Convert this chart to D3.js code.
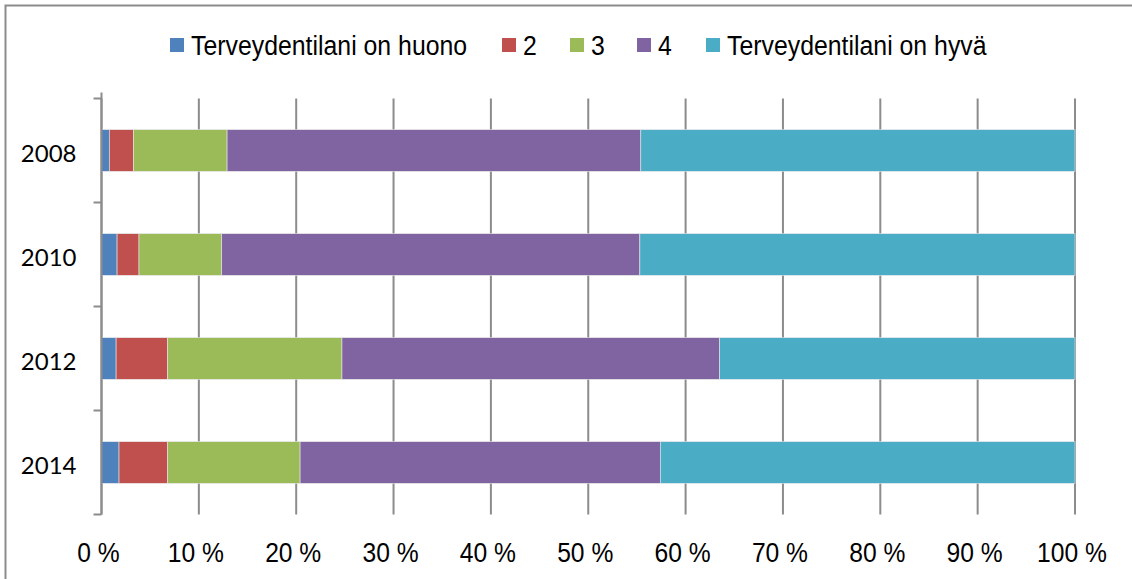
<!DOCTYPE html>
<html>
<head>
<meta charset="utf-8">
<script src="https://cdn.jsdelivr.net/npm/d3@7"></script>
<style>
  body { margin: 0; background: #fff; }
  svg { display: block; }
</style>
</head>
<body>
<div id="chart"></div>
<script>
// categories and series (percent shares)
var years = ['2008', '2010', '2012', '2014'];
var seriesNames = ['Terveydentilani on huono', '2', '3', '4', 'Terveydentilani on hyvä'];
var huono = [0.8, 1.6, 1.5, 1.8];
var s2 = [2.5, 2.25, 5.3, 5.0];
var s3 = [9.6, 8.5, 17.9, 13.6];
var s4 = [42.5, 42.95, 38.8, 37.0];
var hyva = [44.6, 44.7, 36.5, 42.6];
var xTicks = [0, 10, 20, 30, 40, 50, 60, 70, 80, 90, 100];
var colors = ['#4F81BD', '#C0504D', '#9BBB59', '#8064A2', '#4BACC6'];

var W = 1132, H = 579;
var margin = {top: 98.5, right: 57, bottom: 64.5, left: 101.5};
var width = W - margin.left - margin.right,
    height = H - margin.top - margin.bottom;

var keys = ['k0', 'k1', 'k2', 'k3', 'k4'];
var rows = years.map(function(y, i) {
  return {year: y, k0: huono[i], k1: s2[i], k2: s3[i], k3: s4[i], k4: hyva[i]};
});

// narrow-looking text: regular sans squeezed horizontally
var narrowFont = '"Liberation Sans", Arial, sans-serif';

var svg = d3.select('#chart').append('svg')
  .attr('width', W).attr('height', H);

// outer frame
svg.append('rect')
  .attr('x', 5.5).attr('y', 5.5)
  .attr('width', W + 10).attr('height', H + 10)
  .attr('fill', 'none').attr('stroke', '#8c8c8c').attr('stroke-width', 2);

var g = svg.append('g')
  .attr('transform', 'translate(' + margin.left + ',' + margin.top + ')');

var x = d3.scaleLinear().domain([0, 100]).range([0, width]);
var y = d3.scaleBand().domain(years).range([0, height]).paddingInner(0.6).paddingOuter(0.3);
var yEdge = d3.scaleLinear().domain([0, years.length]).range([0, height]);

// vertical gridlines
g.append('g').selectAll('line')
  .data(xTicks).enter().append('line')
  .attr('x1', function(d) { return x(d); })
  .attr('x2', function(d) { return x(d); })
  .attr('y1', 0).attr('y2', height)
  .attr('stroke', '#8c8c8c').attr('stroke-width', 2);

// bars
var stacked = d3.stack().keys(keys)(rows);
g.append('g').selectAll('g')
  .data(stacked).enter().append('g')
  .attr('fill', function(d, i) { return colors[i]; })
  .selectAll('rect')
  .data(function(d) { return d; })
  .enter().append('rect')
  .attr('x', function(d) { return x(d[0]); })
  .attr('y', function(d) { return y(d.data.year); })
  .attr('width', function(d) { return x(d[1]) - x(d[0]); })
  .attr('height', y.bandwidth())
  .attr('stroke', '#e6e6e6').attr('stroke-width', 0.6);

// category axis
g.append('line')
  .attr('x1', 0).attr('x2', 0).attr('y1', -6).attr('y2', height)
  .attr('stroke', '#8c8c8c').attr('stroke-width', 2);
g.append('g').selectAll('line')
  .data(d3.range(years.length + 1)).enter().append('line')
  .attr('x1', -8).attr('x2', 0)
  .attr('y1', function(d) { return yEdge(d); })
  .attr('y2', function(d) { return yEdge(d); })
  .attr('stroke', '#8c8c8c').attr('stroke-width', 2);

g.append('g').selectAll('text')
  .data(years).enter().append('text')
  .attr('x', -25)
  .attr('y', function(d) { return y(d) + y.bandwidth() / 2 + 3; })
  .attr('dy', '0.36em')
  .attr('text-anchor', 'end')
  .style('font-family', 'Lato, "Liberation Sans", sans-serif')
  .style('font-size', '24px')
  .attr('fill', '#000')
  .text(function(d) { return d; });

// value axis labels
g.append('g').selectAll('text')
  .data(xTicks).enter().append('text')
  .attr('transform', function(d) {
    return 'translate(' + (x(d) - 3) + ',' + (height + 37) + ') scale(0.88,1)';
  })
  .attr('dy', '0.36em')
  .attr('text-anchor', 'middle')
  .style('font-family', narrowFont)
  .style('font-size', '28px')
  .attr('fill', '#000')
  .text(function(d) { return d + ' %'; });

// legend
var legendX = [170, 502, 570, 637, 706];
var legend = svg.append('g').selectAll('g')
  .data(seriesNames).enter().append('g')
  .attr('transform', function(d, i) { return 'translate(' + legendX[i] + ',38)'; });
legend.append('rect')
  .attr('width', 14).attr('height', 14)
  .attr('fill', function(d, i) { return colors[i]; });
legend.append('text')
  .attr('transform', 'translate(21,7) scale(0.92,1)')
  .attr('dy', '0.36em')
  .style('font-family', narrowFont)
  .style('font-size', '27px')
  .attr('fill', '#000')
  .text(function(d) { return d; });
</script>
</body>
</html>
